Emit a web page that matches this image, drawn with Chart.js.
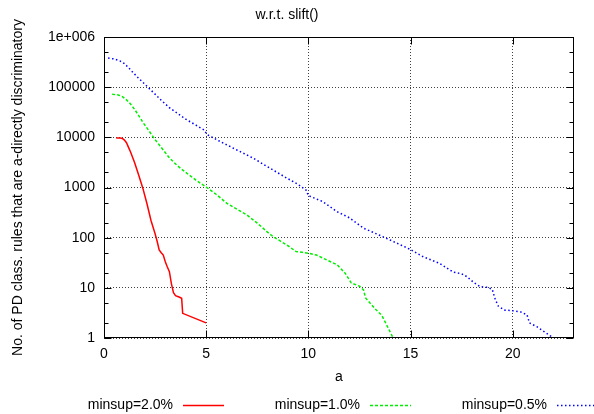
<!DOCTYPE html>
<html>
<head>
<meta charset="utf-8">
<script src="https://cdn.jsdelivr.net/npm/chart.js@4.4.1/dist/chart.umd.min.js"></script>
<style>
  body { margin: 0; background: #fff; }
  canvas { display: block; }
</style>
</head>
<body>
<canvas id="myChart" width="594" height="414"></canvas>
<script>
// minsup = 2.0%
const aRed = [0.6, 0.8, 0.9, 1.0, 1.1, 1.2, 1.3, 1.5, 1.7, 1.9, 2.1, 2.3, 2.5, 2.6, 2.7,
  2.8, 2.9, 3.0, 3.1, 3.2, 3.3, 3.4, 3.5, 3.7, 3.8, 3.85, 5.0];
const nRed = [9700, 9700, 9500, 8800, 7800, 6300, 5100, 3100, 1750, 970, 480, 220, 120, 85, 57,
  50, 45, 33, 26, 21, 12, 8, 7, 6.5, 6.2, 3.1, 2];

// minsup = 1.0%
const aGreen = [0.4, 0.7, 0.9, 1.1, 1.3, 1.5, 1.7, 1.9, 2.2, 2.5, 2.8, 3.2, 3.6, 4.0, 4.5,
  5.0, 5.5, 6.0, 6.5, 7.0, 7.5, 8.0, 8.3, 8.6, 9.0, 9.4, 9.7, 10.0, 10.4, 10.9,
  11.4, 11.8, 12.1, 12.5, 12.7, 12.8, 13.3, 13.6, 13.9, 14.15];
const nGreen = [72000, 70000, 65000, 56000, 46000, 36000, 27000, 20000, 13500, 9000, 6300, 3900, 2700, 2000, 1400,
  1020, 725, 490, 370, 282, 195, 129, 103, 87, 69, 53, 51, 49, 45, 36,
  29, 19.6, 12.5, 10.8, 9.1, 6.3, 3.7, 2.8, 1.6, 1];

// minsup = 0.5%
const aBlue = [0.2, 0.5, 0.8, 1.0, 1.2, 1.45, 1.7, 1.95, 2.2, 2.45, 2.8, 3.2, 3.6, 4.0, 4.5,
  4.9, 5.05, 5.7, 6.5, 7.3, 8.1, 8.9, 9.5, 9.9, 10.0, 10.7, 11.4, 12.0, 12.7, 13.8,
  15.0, 15.6, 16.4, 16.8, 17.1, 17.5, 17.75, 18.1, 18.4, 18.8, 19.0, 19.15, 19.3, 19.6, 20.0,
  20.4, 20.7, 20.82, 21.2, 21.6, 22.0];
const nBlue = [380000, 365000, 330000, 295000, 245000, 190000, 150000, 120000, 95000, 76000, 55000, 39000, 30000, 23000, 17500,
  14000, 11300, 8200, 5600, 3850, 2450, 1580, 1150, 880, 690, 525, 330, 250, 155, 98,
  58, 42, 31, 24.5, 20.5, 19, 16.8, 12.7, 10.6, 10.2, 9.3, 5.8, 4.3, 3.6, 3.5,
  3.3, 2.9, 2.0, 1.66, 1.29, 1.0];

const seriesLabels = ['minsup=2.0%', 'minsup=1.0%', 'minsup=0.5%'];
const xTicks = [0, 5, 10, 15, 20];
const yTicks = [1, 10, 100, 1000, 10000, 100000, 1000000];
const yTickLabels = ['1', '10', '100', '1000', '10000', '100000', '1e+006'];

const font = "'Liberation Sans', Arial, Helvetica, sans-serif";

function pts(xs, ys) {
  return xs.map((v, i) => ({x: v, y: ys[i]}));
}

// border box, inward ticks and the legend row under the plot
const frame = {
  id: 'frame',
  afterDraw(chart) {
    const {ctx, chartArea: a, scales} = chart;
    const sx = scales.x, sy = scales.y;
    const L = Math.round(a.left) + 0.5, R = Math.round(a.right) - 0.5;
    const T = Math.round(a.top) + 0.5, B = Math.round(a.bottom) - 0.5;
    ctx.save();
    ctx.strokeStyle = '#000';
    ctx.lineWidth = 1;
    ctx.setLineDash([]);
    ctx.beginPath();
    xTicks.forEach(v => {
      const p = Math.round(sx.getPixelForValue(v)) + 0.5;
      ctx.moveTo(p, B); ctx.lineTo(p, B - 7);
      ctx.moveTo(p, T); ctx.lineTo(p, T + 7);
    });
    for (let d = 0; d <= 6; d++) {
      [1, 2, 5].forEach(m => {
        const v = m * Math.pow(10, d);
        if (v > 1000000) return;
        const len = m === 1 ? 7 : 4;
        const p = Math.round(sy.getPixelForValue(v)) + 0.5;
        ctx.moveTo(L, p); ctx.lineTo(L + len, p);
        ctx.moveTo(R, p); ctx.lineTo(R - len, p);
      });
    }
    ctx.stroke();
    ctx.strokeRect(L, T, R - L, B - T);

    // legend: text then line sample
    ctx.font = '14px ' + font;
    ctx.fillStyle = '#000';
    ctx.textAlign = 'right';
    ctx.textBaseline = 'middle';
    chart.data.datasets.forEach((ds, i) => {
      const tx = 173 + i * 187;
      const ly = 405;
      ctx.fillText(ds.label, tx, ly);
      ctx.strokeStyle = ds.borderColor;
      ctx.lineWidth = ds.borderWidth;
      ctx.setLineDash(ds.borderDash || []);
      ctx.beginPath();
      ctx.moveTo(tx + 10, ly + 0.5);
      ctx.lineTo(tx + 51, ly + 0.5);
      ctx.stroke();
    });
    ctx.restore();
  }
};

Chart.defaults.font.family = font;
Chart.defaults.font.size = 14;
Chart.defaults.color = '#000';

const ctx = document.getElementById('myChart').getContext('2d');
const myChart = new Chart(ctx, {
  type: 'line',
  data: {
    datasets: [
      {
        label: seriesLabels[0],
        data: pts(aRed, nRed),
        borderColor: '#ff0000',
        borderWidth: 1.5
      },
      {
        label: seriesLabels[1],
        data: pts(aGreen, nGreen),
        borderColor: '#00ee00',
        borderWidth: 1.5,
        borderDash: [3, 2]
      },
      {
        label: seriesLabels[2],
        data: pts(aBlue, nBlue),
        borderColor: '#0000ff',
        borderWidth: 1.5,
        borderDash: [1.5, 2.5]
      }
    ]
  },
  options: {
    responsive: false,
    animation: false,
    layout: { padding: { left: 0, right: 20, top: 0, bottom: 0 } },
    elements: {
      point: { radius: 0 },
      line: { tension: 0, fill: false }
    },
    plugins: {
      legend: { display: false },
      tooltip: { enabled: false },
      title: {
        display: true,
        text: 'w.r.t. slift()',
        font: { size: 14, weight: 'normal' },
        padding: { top: 6.6, bottom: 13.6 }
      }
    },
    scales: {
      x: {
        type: 'linear',
        min: 0,
        max: 23,
        afterBuildTicks: s => { s.ticks = xTicks.map(v => ({value: v})); },
        afterFit: s => { s.height = 76; },
        ticks: { padding: 8, maxRotation: 0 },
        grid: { color: 'rgba(0,0,0,0.75)', drawTicks: false },
        border: { display: false, dash: [1, 2] },
        title: {
          display: true,
          text: 'a',
          font: { size: 14 },
          padding: { top: 0, bottom: 28.6 }
        }
      },
      y: {
        type: 'logarithmic',
        min: 1,
        max: 1000000,
        afterBuildTicks: s => { s.ticks = yTicks.map(v => ({value: v})); },
        afterFit: s => { s.width = 104; },
        ticks: {
          padding: 9,
          callback: (v, i) => yTickLabels[i]
        },
        grid: { color: 'rgba(0,0,0,0.75)', drawTicks: false },
        border: { display: false, dash: [1, 2] },
        title: {
          display: true,
          text: 'No. of PD class. rules that are a-directly discriminatory',
          font: { size: 14 },
          padding: { top: 10, bottom: 0 }
        }
      }
    }
  },
  plugins: [frame]
});
</script>
</body>
</html>
